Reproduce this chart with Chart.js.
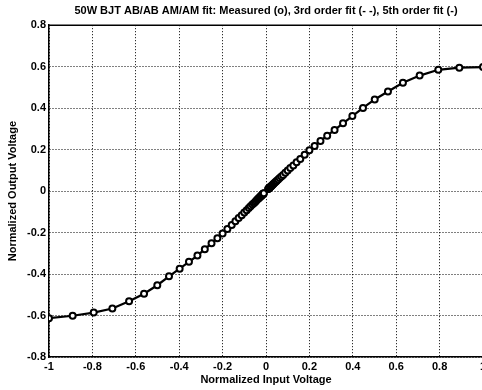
<!DOCTYPE html>
<html>
<head>
<meta charset="utf-8">
<script src="https://cdn.jsdelivr.net/npm/chart.js@4/dist/chart.umd.min.js"></script>
<style>
  html, body { margin: 0; padding: 0; background: #fff; overflow: hidden; }
</style>
</head>
<body>
<canvas id="amamChart" width="490" height="390"></canvas>
<script>
// Measured AM/AM points (normalized input -> normalized output)
const inputVoltage = [
  -1.0, -0.891, -0.794, -0.708, -0.631, -0.562, -0.501, -0.447, -0.398, -0.355,
  -0.316, -0.282, -0.251, -0.224, -0.200, -0.178, -0.158, -0.141, -0.126, -0.112,
  -0.100, -0.089, -0.079, -0.071, -0.063, -0.056, -0.050, -0.045, -0.040, -0.035,
  -0.032, -0.028, -0.025, -0.022, -0.020, -0.018, -0.016, -0.014, -0.013, -0.011, -0.010,
  0.010, 0.011, 0.013, 0.014, 0.016, 0.018, 0.020, 0.022, 0.025, 0.028,
  0.032, 0.035, 0.040, 0.045, 0.050, 0.056, 0.063, 0.071, 0.079, 0.089,
  0.100, 0.112, 0.126, 0.141, 0.158, 0.178, 0.200, 0.224, 0.251, 0.282,
  0.316, 0.355, 0.398, 0.447, 0.501, 0.562, 0.631, 0.708, 0.794, 0.891, 1.0
];
const outputVoltage = [
  -0.613, -0.601, -0.586, -0.566, -0.531, -0.495, -0.454, -0.411, -0.374, -0.341,
  -0.311, -0.280, -0.252, -0.227, -0.205, -0.183, -0.163, -0.145, -0.130, -0.116,
  -0.103, -0.092, -0.081, -0.073, -0.065, -0.058, -0.052, -0.046, -0.041, -0.036,
  -0.033, -0.029, -0.026, -0.023, -0.021, -0.019, -0.016, -0.014, -0.013, -0.011, -0.010,
  0.010, 0.011, 0.013, 0.014, 0.016, 0.018, 0.020, 0.022, 0.025, 0.028,
  0.032, 0.035, 0.040, 0.045, 0.050, 0.056, 0.063, 0.070, 0.078, 0.088,
  0.099, 0.111, 0.124, 0.139, 0.155, 0.175, 0.197, 0.218, 0.242, 0.267,
  0.295, 0.327, 0.362, 0.401, 0.442, 0.480, 0.522, 0.557, 0.585, 0.595, 0.598
];

const xTicks = [-1, -0.8, -0.6, -0.4, -0.2, 0, 0.2, 0.4, 0.6, 0.8, 1];
const yTicks = [-0.8, -0.6, -0.4, -0.2, 0, 0.2, 0.4, 0.6, 0.8];

const measured = inputVoltage.map((x, i) => ({ x: x, y: outputVoltage[i] }));

const fontMain = { family: 'Liberation Sans, Arial, sans-serif', size: 11, weight: 'bold' };

// solid frame line along the top of the plot, like the matlab box
const topBorder = {
  id: 'topBorder',
  afterDraw(chart) {
    const { ctx, chartArea } = chart;
    ctx.save();
    ctx.strokeStyle = '#000';
    ctx.lineWidth = 1.5;
    ctx.beginPath();
    ctx.moveTo(chartArea.left, chartArea.top);
    ctx.lineTo(chartArea.right, chartArea.top);
    ctx.stroke();
    ctx.restore();
  }
};

const fmt = v => Number(Number(v).toFixed(1)).toString();

new Chart(document.getElementById('amamChart'), {
  type: 'scatter',
  data: {
    datasets: [{
      label: 'Measured',
      data: measured,
      showLine: true,
      borderColor: '#000',
      borderWidth: 2.2,
      pointStyle: 'circle',
      pointRadius: 3,
      pointBorderWidth: 2,
      pointBorderColor: '#000',
      pointBackgroundColor: '#fff'
    }]
  },
  options: {
    responsive: false,
    animation: false,
    layout: { padding: { left: 0, right: 7, top: 0, bottom: 0 } },
    plugins: {
      legend: { display: false },
      tooltip: { enabled: false },
      title: {
        display: true,
        fullSize: false,
        text: '50W BJT AB/AB AM/AM fit: Measured (o), 3rd order fit (- -), 5th order fit (-)',
        color: '#000',
        font: fontMain,
        padding: { top: 4, bottom: 8 }
      }
    },
    scales: {
      x: {
        type: 'linear',
        min: -1,
        max: 1,
        afterBuildTicks: s => { s.ticks = xTicks.map(v => ({ value: v })); },
        afterFit: s => { s.height = 33; },
        ticks: { color: '#000', font: fontMain, padding: 3, maxRotation: 0, callback: fmt },
        grid: { color: '#000', lineWidth: 1, drawTicks: false },
        border: { color: '#000', width: 1.5, dash: [1, 2] },
        title: {
          display: true,
          text: 'Normalized Input Voltage',
          color: '#000',
          font: fontMain,
          padding: { top: 0, bottom: 3 }
        }
      },
      y: {
        type: 'linear',
        min: -0.8,
        max: 0.8,
        afterBuildTicks: s => { s.ticks = yTicks.map(v => ({ value: v })); },
        afterFit: s => { s.width = 49; },
        ticks: { color: '#000', font: fontMain, padding: 3, callback: fmt },
        grid: { color: '#000', lineWidth: 1, drawTicks: false },
        border: { color: '#000', width: 1.5, dash: [1, 2] },
        title: {
          display: true,
          text: 'Normalized Output Voltage',
          color: '#000',
          font: fontMain,
          padding: { top: 6, bottom: 0 }
        }
      }
    }
  },
  plugins: [topBorder]
});
</script>
</body>
</html>
